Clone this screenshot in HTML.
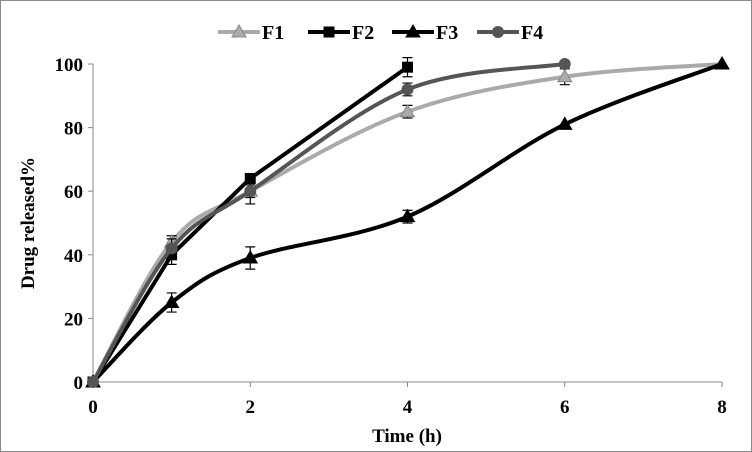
<!DOCTYPE html>
<html><head><meta charset="utf-8"><style>
body{margin:0;background:#fff}
svg{display:block;font-family:"Liberation Serif","Times New Roman",serif;font-weight:bold}
</style></head><body>
<svg id="c" width="752" height="452">
<rect x="0.5" y="0.5" width="751" height="451" fill="#fff" stroke="#888"/>
</svg>
<script>
const xTicks=[0,2,4,6,8];
const yTicks=[0,20,40,60,80,100];
const f1x=[0,1,2,4,6,8], f1y=[0,44,60,85,96,100], f1e=[0,2,2,2,2.5,0];
const f2x=[0,1,2,4], f2y=[0,40,64,99], f2e=[0,3,0,3];
const f3x=[0,1,2,4,6,8], f3y=[0,25,39,52,81,100], f3e=[0,3,3.5,2,0,0];
const f4x=[0,1,2,4,6], f4y=[0,42,60,92,100], f4e=[0,3,4,2,0];
const NS="http://www.w3.org/2000/svg", svg=document.getElementById('c');
const X=v=>93+v*(722-93)/8, Y=v=>382-v*(382-64)/100;
function mk(t,a,p){const e=document.createElementNS(NS,t);for(const k in a)e.setAttribute(k,a[k]);(p||svg).appendChild(e);return e;}
let ax=mk('line',{x1:93,y1:64,x2:93,y2:382,stroke:'#888'});


ax=mk('line',{x1:93,y1:382,x2:722,y2:382,stroke:'#888'});


yTicks.forEach(v=>{
 mk('line',{x1:88,y1:Y(v),x2:93,y2:Y(v),stroke:'#888'});
 const t=mk('text',{x:83,y:Y(v)+7,'text-anchor':'end','font-size':19});t.textContent=v;
 
 
});
xTicks.forEach(v=>{
 mk('line',{x1:X(v),y1:382,x2:X(v),y2:387,stroke:'#888'});
 const t=mk('text',{x:X(v),y:413,'text-anchor':'middle','font-size':19});t.textContent=v;
 
 
});
let t=mk('text',{x:407,y:442,'text-anchor':'middle','font-size':19});t.textContent='Time (h)';


t=mk('text',{x:0,y:0,'text-anchor':'middle','font-size':19,transform:'translate(34,223) rotate(-90)'});t.textContent='Drug released%';


function path(xs,ys,smooth){
 const p=xs.map((x,i)=>[X(x),Y(ys[i])]);
 let d='M'+p[0][0]+','+p[0][1];
 for(let i=0;i<p.length-1;i++){
  if(!smooth){d+=' L'+p[i+1][0]+','+p[i+1][1];continue;}
  const p0=p[i-1]||p[i],p1=p[i],p2=p[i+1],p3=p[i+2]||p2,k=6;
  d+=` C${p1[0]+(p2[0]-p0[0])/k},${p1[1]+(p2[1]-p0[1])/k} ${p2[0]-(p3[0]-p1[0])/k},${p2[1]-(p3[1]-p1[1])/k} ${p2[0]},${p2[1]}`;
 }
 return d;
}
function marker(type,x,y,fill,g){
 if(type==='tri')return mk('polygon',{points:`${x},${y-7} ${x-7},${y+5} ${x+7},${y+5}`,fill:fill,stroke:fill==='#aaa'?'#888':fill},g);
 if(type==='sq')return mk('rect',{x:x-5.5,y:y-5.5,width:11,height:11,fill:fill},g);
 return mk('circle',{cx:x,cy:y,r:6,fill:fill},g);
}
const series=[
 {n:'f1',xs:f1x,ys:f1y,es:f1e,c:'#aaa',m:'tri',mf:'#aaa',s:true},
 {n:'f2',xs:f2x,ys:f2y,es:f2e,c:'#000',m:'sq',mf:'#000',s:false},
 {n:'f3',xs:f3x,ys:f3y,es:f3e,c:'#000',m:'tri',mf:'#000',s:true},
 {n:'f4',xs:f4x,ys:f4y,es:f4e,c:'#555',m:'circ',mf:'#555',s:true}];
series.forEach(s=>{
 const g=mk('g',{});
 
 
 const l=mk('path',{d:path(s.xs,s.ys,s.s),fill:'none',stroke:s.c,'stroke-width':4},g);
 
 
 s.xs.forEach((x,i)=>{
  const e=s.es[i];
  if(e>0){const cx=X(x),a=Y(s.ys[i]+e),b=Y(s.ys[i]-e);
   mk('path',{d:`M${cx},${a}V${b}M${cx-5},${a}H${cx+5}M${cx-5},${b}H${cx+5}`,stroke:'#000','stroke-width':1.2,fill:'none'},g);}
  const m=marker(s.m,X(x),Y(s.ys[i]),s.mf,g);
  
  
 });
});
const legX=[218,308,392,477], labels=['F1','F2','F3','F4'];
series.forEach((s,i)=>{
 const g=mk('g',{});
 
 
 mk('line',{x1:legX[i],y1:32,x2:legX[i]+42,y2:32,stroke:s.c,'stroke-width':4},g);
 marker(s.m,legX[i]+21,32,s.mf,g);
 const tx=mk('text',{x:legX[i]+44,y:39,'font-size':20},g);tx.textContent=labels[i];
});
</script>
</body></html>
